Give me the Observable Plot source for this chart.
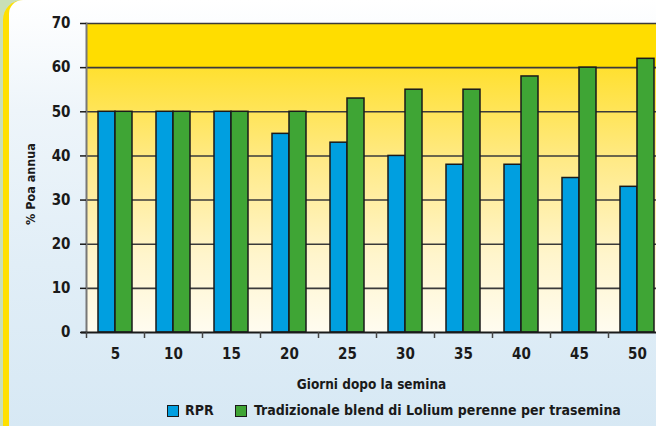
<!DOCTYPE html>
<html><head><meta charset="utf-8">
<script src="https://cdn.jsdelivr.net/npm/d3@7"></script>
<script src="https://cdn.jsdelivr.net/npm/@observablehq/plot@0.6"></script>
<style>
html,body{margin:0;padding:0;}
body{width:656px;height:426px;overflow:hidden;position:relative;background:#c9dfb8;
 font-family:"Liberation Sans Narrow","DejaVu Sans Condensed","Roboto Condensed",sans-serif;font-weight:bold;color:#1a1a1a;}
#stripe{position:absolute;left:3px;top:0;width:40px;height:440px;background:#ffe000;border-top-left-radius:20px;}
#card{position:absolute;left:9px;top:0;width:700px;height:440px;border-top-left-radius:14px;
 background:linear-gradient(180deg,#ffffff 0%,#eef5fa 25%,#e1eef7 60%,#d6e8f4 100%);}
#chart{position:absolute;left:0;top:0;}
#legend{position:absolute;left:0;top:402px;width:656px;height:20px;font-size:14px;}
.sw{position:absolute;top:3px;width:10px;height:10px;border:1.5px solid #1a1a1a;}
.lt{position:absolute;top:0;line-height:16px;}
svg text{font-family:"Liberation Sans Narrow","DejaVu Sans Condensed",sans-serif;font-weight:bold;}
</style></head>
<body>
<div id="stripe"></div>
<div id="card"></div>
<div id="chart"></div>
<div id="legend">
 <div class="sw" style="left:167px;background:#009fe0"></div><div class="lt" style="left:185px">RPR</div>
 <div class="sw" style="left:235px;background:#3fa535"></div><div class="lt" style="left:254px">Tradizionale blend di Lolium perenne per trasemina</div>
</div>
<script>
const days = ["5","10","15","20","25","30","35","40","45","50"];
const rpr = [50,50,50,45,43,40,38,38,35,33];
const tradizionale = [50,50,50,50,53,55,55,58,60,62];
const yTicks = [0,10,20,30,40,50,60,70];
const seriesNames = ["RPR","Tradizionale blend di Lolium perenne per trasemina"];
const colors = ["#009fe0","#3fa535"];

const dataR = days.map((d,i)=>({day:d, value:rpr[i]}));
const dataT = days.map((d,i)=>({day:d, value:tradizionale[i]}));

const plot = Plot.plot({
  width: 656,
  height: 395,
  marginLeft: 86,
  marginRight: 0,
  marginTop: 23,
  marginBottom: 63,
  style: {background: "transparent", fontFamily: "'Liberation Sans Narrow','DejaVu Sans Condensed',sans-serif", fontWeight: "bold", color: "#1a1a1a"},
  x: {type: "band", domain: days, range: [86, 666], paddingInner: 0.4138, paddingOuter: 0.2069, axis: null},
  y: {domain: [0, 70], axis: null},
  marks: [
    Plot.frame({fill: "url(#plotbg)", stroke: null}),
    Plot.ruleY(yTicks.filter(d => d > 0), {stroke: "#3a3a3a", strokeWidth: 1.6}),
    Plot.barY(dataR, {x: "day", y: "value", fill: colors[0], stroke: "#1a1a1a", strokeWidth: 1.5, insetRight: 17}),
    Plot.barY(dataT, {x: "day", y: "value", fill: colors[1], stroke: "#1a1a1a", strokeWidth: 1.5, insetLeft: 17}),
    Plot.frame({anchor: "left", stroke: "#777", strokeWidth: 2}),
    Plot.ruleY([0], {stroke: "#1a1a1a", strokeWidth: 2, insetLeft: -5}),
    Plot.axisY({ticks: yTicks, tickSize: 6, tickPadding: 10, fontSize: 15, stroke: "#1a1a1a", strokeWidth: 1.5, label: null}),
    Plot.axisX({ticks: days, tickSize: 6, text: null, dx: 29, stroke: "#444", strokeWidth: 1.5, label: null}),
    Plot.axisX({ticks: [days[0]], tickSize: 6, text: null, dx: -29, stroke: "#444", strokeWidth: 1.5, label: null}),
    Plot.axisX({ticks: days, tickSize: 0, tickPadding: 16, fontSize: 15, label: null}),
    Plot.text(["Giorni dopo la semina"], {frameAnchor: "bottom", dy: 56, fontSize: 13.5, fontWeight: "bold", fill: "#1a1a1a"}),
    Plot.text(["% Poa annua"], {frameAnchor: "left", textAnchor: "middle", dx: -56, dy: 6, rotate: -90, fontSize: 12.5, fontWeight: "bold", fill: "#1a1a1a"})
  ]
});

const ns = "http://www.w3.org/2000/svg";
const defs = document.createElementNS(ns, "defs");
defs.innerHTML = `<linearGradient id="plotbg" x1="0" y1="0" x2="0" y2="1">
  <stop offset="0" stop-color="#ffdd00"/>
  <stop offset="0.143" stop-color="#ffdd00"/>
  <stop offset="0.143" stop-color="#ffe030"/>
  <stop offset="0.45" stop-color="#ffea88"/>
  <stop offset="0.75" stop-color="#fff5cc"/>
  <stop offset="1" stop-color="#fffcf0"/>
</linearGradient>`;
plot.insertBefore(defs, plot.firstChild);
document.getElementById("chart").appendChild(plot);
</script>
</body></html>
